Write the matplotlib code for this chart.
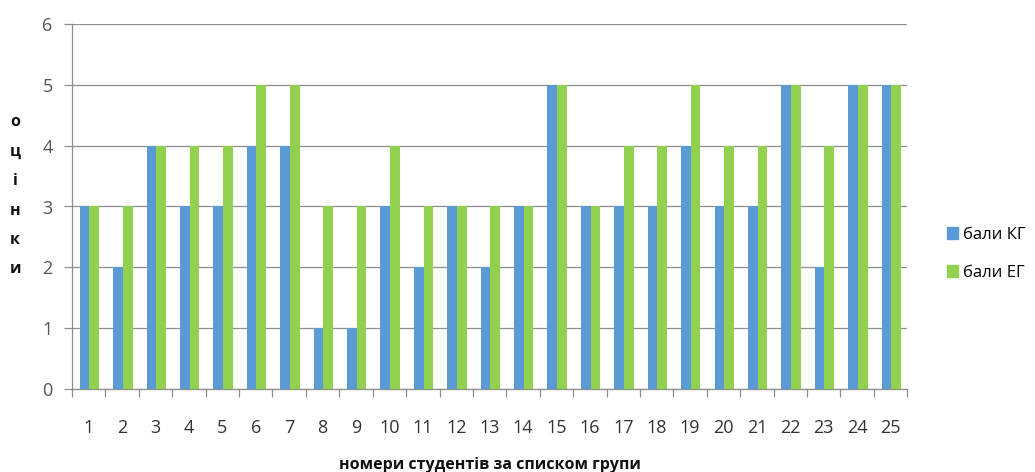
import matplotlib
matplotlib.use("Agg")
import matplotlib.pyplot as plt
from matplotlib.patches import Patch
import numpy as np

students = list(range(1, 26))
kg_scores = [3, 2, 4, 3, 3, 4, 4, 1, 1, 3, 2, 3, 2, 3, 5, 3, 3, 3, 4, 3, 3, 5, 2, 5, 5]
eg_scores = [3, 3, 4, 4, 4, 5, 5, 3, 3, 4, 3, 3, 3, 3, 5, 3, 4, 4, 5, 4, 4, 5, 4, 5, 5]
series_names = ["бали КГ", "бали ЕГ"]
y_ticks = [0, 1, 2, 3, 4, 5, 6]

BLUE = "#5B9BD5"
GREEN = "#92D050"
GRID = "#8C8C8C"

plt.rcParams["font.family"] = ["Open Sans", "DejaVu Sans"]

fig = plt.figure(figsize=(10.35, 4.72), dpi=100)
ax = fig.add_axes([0.0696, 0.176, 0.807, 0.773])

x = np.arange(len(students))
w = 0.29
ax.bar(x - w / 2 + 0.02, kg_scores, width=w, color=BLUE, zorder=3)
ax.bar(x + w / 2 + 0.02, eg_scores, width=w, color=GREEN, zorder=3)

ax.set_xlim(-0.5, len(students) - 0.5)
ax.set_ylim(0, 6)
ax.set_yticks(y_ticks)
ax.set_yticklabels([str(t) for t in y_ticks])
ax.yaxis.grid(True, color=GRID, linewidth=0.9, zorder=0)

# category labels at centres, tick marks at boundaries
ax.set_xticks(x)
ax.set_xticklabels([str(s) for s in students])
ax.set_xticks(np.arange(-0.5, len(students)), minor=True)
ax.tick_params(axis="x", which="major", length=0, pad=22, labelsize=13, labelcolor="#333333")
ax.tick_params(axis="x", which="minor", length=6, color=GRID, width=0.9)
ax.tick_params(axis="y", length=6, color=GRID, width=0.9, pad=8, labelsize=13, labelcolor="#555555")

for side in ("top", "right"):
    ax.spines[side].set_visible(False)
for side in ("left", "bottom"):
    ax.spines[side].set_color(GRID)
    ax.spines[side].set_linewidth(0.9)

ax.set_xlabel("номери студентів за списком групи", fontsize=11.5, fontweight="bold",
              labelpad=14, color="#111111")

# vertical stacked y label
fig.text(0.0145, 0.585, "\n".join("оцінки"), fontsize=11.5, fontweight="bold",
         ha="center", va="center", linespacing=2.12, color="#111111")

handles = [Patch(color=BLUE), Patch(color=GREEN)]
fig.legend(handles, series_names, loc="center left", bbox_to_anchor=(0.9, 0.462),
           frameon=False, fontsize=12, handlelength=0.7, handleheight=0.7,
           handletextpad=0.3, labelspacing=1.3)

fig.savefig("out.png", dpi=100)
